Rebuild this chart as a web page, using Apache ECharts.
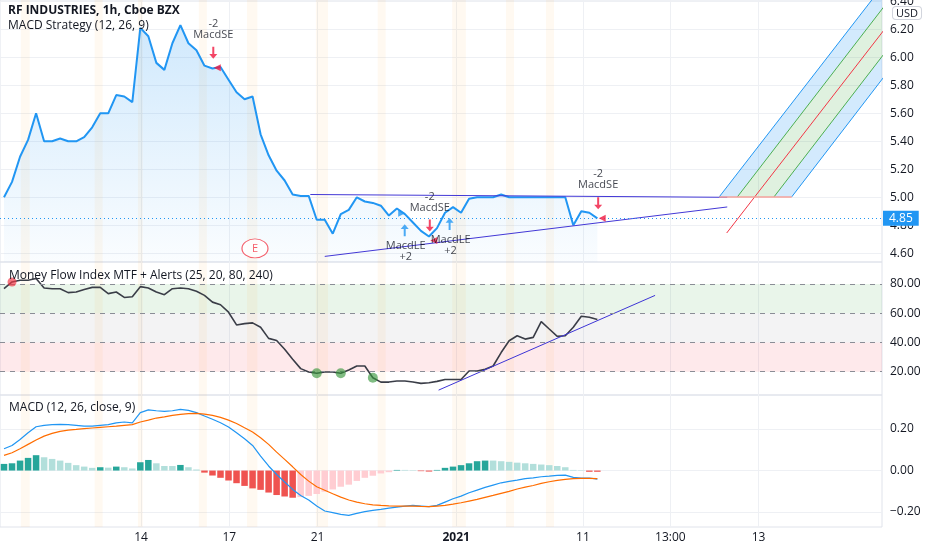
<!DOCTYPE html>
<html><head><meta charset="utf-8">
<script src="https://cdn.jsdelivr.net/npm/echarts@6/dist/echarts.min.js"></script>
<style>html,body{margin:0;padding:0;background:#fff}#c{width:932px;height:550px}</style>
</head><body><div id="c"></div>
<script>
// ---------- data (bar index = hourly bar) ----------
const closePrice = [5.00,5.11,5.29,5.41,5.60,5.40,5.40,5.42,5.40,5.40,
  5.43,5.50,5.60,5.60,5.73,5.72,5.68,6.21,6.15,5.96,
  5.91,6.10,6.23,6.10,6.05,5.94,5.92,5.93,5.84,5.75,
  5.70,5.72,5.45,5.30,5.19,5.12,5.02,5.01,5.01,4.84,
  4.84,4.74,4.88,4.91,5.00,4.97,4.96,4.94,4.87,4.92,
  4.88,4.82,4.76,4.72,4.78,4.89,4.93,4.89,4.99,5.00,
  5.00,5.00,5.02,5.00,5.00,5.00,5.00,5.00,5.00,5.00,
  5.00,4.80,4.90,4.89,4.85];
const mfi = [76.8,81.4,82.6,82.6,83.7,77.3,76.8,76.8,74.1,74.5,
  76.3,77.7,77.7,73.4,74.5,70.8,71.3,78.2,77.3,74.5,
  72.7,76.8,77.3,76.8,75.0,72.2,67.6,65.8,60.7,52.0,
  52.9,53.4,50.4,42.8,41.4,35.4,28.5,22.1,19.8,18.9,
  19.8,19.8,18.9,21.2,23.9,23.9,15.9,12.9,12.9,13.6,
  13.6,12.9,12.0,12.4,13.4,14.7,14.7,14.7,20.5,20.5,
  21.6,23.9,33.1,41.2,44.6,42.3,43.5,54.3,49.2,44.2,
  44.6,50.4,57.9,57.3,55.7];
const macdLine = [0.105,0.121,0.150,0.182,0.211,0.218,0.221,0.222,0.221,0.218,
  0.214,0.214,0.218,0.221,0.230,0.234,0.230,0.279,0.292,0.288,
  0.285,0.288,0.295,0.290,0.279,0.263,0.247,0.230,0.210,0.182,
  0.153,0.121,0.070,0.022,-0.019,-0.055,-0.091,-0.120,-0.142,-0.171,
  -0.195,-0.203,-0.211,-0.216,-0.206,-0.198,-0.192,-0.187,-0.181,-0.176,
  -0.171,-0.168,-0.171,-0.174,-0.168,-0.152,-0.136,-0.123,-0.107,-0.094,
  -0.081,-0.070,-0.059,-0.052,-0.046,-0.039,-0.035,-0.030,-0.027,-0.023,
  -0.022,-0.033,-0.036,-0.036,-0.041];
const signalLine = [0.073,0.086,0.105,0.126,0.147,0.166,0.179,0.189,0.195,0.198,
  0.202,0.205,0.208,0.211,0.214,0.218,0.221,0.234,0.243,0.253,
  0.259,0.266,0.271,0.274,0.275,0.272,0.266,0.256,0.243,0.227,
  0.206,0.186,0.158,0.126,0.089,0.054,0.018,-0.019,-0.051,-0.078,
  -0.095,-0.112,-0.128,-0.142,-0.152,-0.160,-0.165,-0.168,-0.170,-0.171,
  -0.171,-0.171,-0.173,-0.174,-0.171,-0.168,-0.162,-0.155,-0.147,-0.139,
  -0.129,-0.120,-0.110,-0.100,-0.089,-0.080,-0.072,-0.062,-0.054,-0.047,
  -0.043,-0.039,-0.038,-0.038,-0.039];
const histogram = [0.032,0.035,0.048,0.061,0.074,0.064,0.056,0.048,0.037,0.026,
  0.019,0.013,0.016,0.014,0.019,0.016,0.010,0.040,0.051,0.035,
  0.022,0.022,0.027,0.016,0.005,-0.010,-0.024,-0.035,-0.048,-0.061,
  -0.074,-0.086,-0.093,-0.106,-0.118,-0.125,-0.131,-0.128,-0.122,-0.113,
  -0.102,-0.091,-0.078,-0.068,-0.050,-0.035,-0.025,-0.014,-0.008,0.003,
  0.003,0.002,-0.003,-0.005,0.003,0.013,0.019,0.026,0.035,0.045,
  0.048,0.048,0.045,0.042,0.038,0.035,0.032,0.029,0.026,0.022,
  0.016,0.003,0.002,-0.006,-0.006];

const tickPositions = [17.1, 28.1, 39.1, 56.4, 72.2, 83.1, 94.1];
const tickLabels = ['14', '17', '21', '2021', '11', '13:00', '13'];
const priceTicks = [4.6, 4.8, 5.0, 5.2, 5.4, 5.6, 5.8, 6.0, 6.2, 6.4];
const mfiTicks = [20, 40, 60, 80];
const macdTicks = [-0.2, 0, 0.2];
const lastPrice = 4.85;

const sessionBands = [[2.1,3.2],[11.3,12.3],[16.7,17.3],[24.3,25.3],[30.3,31.6],
  [38.9,40.4],[46.6,47.6],[55.9,57.6],[62.6,63.6],[67.6,68.6]];

// drawings
const resistanceLine = [[38.2, 5.02], [90.2, 5.00]];
const supportLine = [[40.0, 4.578], [90.2, 4.931]];
const mfiTrendLine = [[54.2, 7.4], [81.2, 72.2]];
const channelOuterUpper = [[89.2, 5.003], [111, 6.614]];
const channelInnerUpper = [[91.46, 5.003], [111, 6.455]];
const channelMedian = [[90.13, 4.745], [111, 6.287]];
const channelInnerLower = [[96.03, 5.003], [111, 6.117]];
const channelOuterLower = [[98.24, 5.003], [111, 5.954]];
const channelBase = [[89.2, 5.003], [98.24, 5.003]];

// strategy / indicator markers
const shortEntries = [[26.6, 5.926], [53.6, 4.692], [74.6, 4.85]];
const longEntries = [[49.6, 4.886], [55.2, 4.93]];
const earnings = [[31.3, 4.635]];
const mfiOverbought = [1];
const mfiOversold = [39, 42, 46];

// ---------- chart ----------
const FONT = '"Open Sans", "Noto Sans", sans-serif';
const TXT = '#131722';
const GRIDC = '#eef0f4';
const chart = echarts.init(document.getElementById('c'), null, {renderer: 'canvas'});

const idx = a => a.map((v, i) => [i, v]);
const bandAreas = sessionBands.map(b => [{xAxis: b[0], itemStyle: {color: 'rgba(255,167,38,0.065)'}}, {xAxis: b[1]}]);

function xAxisFor(g, showLabel) {
  return {
    type: 'value', gridIndex: g, min: -0.5, max: 109.5,
    axisLine: {show: false},
    axisTick: {show: false, customValues: tickPositions},
    axisLabel: {
      show: showLabel, customValues: tickPositions, color: TXT, fontSize: 12, fontFamily: FONT, margin: 5,
      formatter: v => {
        const k = tickPositions.findIndex(t => Math.abs(t - v) < 1e-6);
        if (k < 0) return '';
        return tickLabels[k] === '2021' ? '{b|2021}' : tickLabels[k];
      },
      rich: {b: {fontWeight: 'bold', fontSize: 12, color: TXT, fontFamily: FONT}}
    },
    splitLine: {show: true, lineStyle: {color: GRIDC, width: 1}}
  };
}
function yAxisFor(g, min, max, ticks, fmt, split) {
  return {
    type: 'value', gridIndex: g, position: 'right', min: min, max: max, scale: true,
    axisLine: {show: false},
    axisTick: {show: false, customValues: ticks},
    axisLabel: {customValues: ticks, color: TXT, fontSize: 12, fontFamily: FONT, margin: 8, formatter: fmt},
    splitLine: {show: split, lineStyle: {color: GRIDC, width: 1}}
  };
}
const fmt2 = v => v.toFixed(2);
const fmtMacd = v => (v < -1e-9 ? '\u2212' + Math.abs(v).toFixed(2) : Math.abs(v).toFixed(2));

const channelPolys = [
  [channelOuterUpper[0], channelOuterUpper[1], channelInnerUpper[1], channelInnerUpper[0]],
  [channelInnerUpper[0], channelInnerUpper[1], channelInnerLower[1], channelInnerLower[0]],
  [channelInnerLower[0], channelInnerLower[1], channelOuterLower[1], channelOuterLower[0]]
];
const channelFills = ['rgba(33,150,243,0.20)', 'rgba(76,175,80,0.18)', 'rgba(33,150,243,0.20)'];

function drawLine(data, color, width, g) {
  return {type: 'line', xAxisIndex: g || 0, yAxisIndex: g || 0, data: data, symbol: 'none', silent: true,
    lineStyle: {color: color, width: width || 1}, z: 4, clip: true, animation: false};
}

const histData = histogram.map((v, i) => {
  const p = i > 0 ? histogram[i - 1] : (v >= 0 ? v - 1 : v + 1);
  let c;
  if (v >= 0) c = p < v ? '#26a69a' : '#b2dfdb';
  else c = p < v ? '#ffcdd2' : '#ef5350';
  return {value: [i, v], itemStyle: {color: c}};
});

const downArrow = 'path://M3,0 H5 V8 H8 L4,13 L0,8 H3 Z';
const upArrow = 'path://M4,0 L8,5 H5 V13 H3 V5 H0 Z';

const option = {
  animation: false,
  backgroundColor: '#ffffff',
  textStyle: {fontFamily: FONT},
  title: [
    {text: 'RF INDUSTRIES, 1h, Cboe BZX', left: 8, top: 5, padding: 0, textStyle: {fontSize: 12, fontWeight: 'bold', color: TXT, fontFamily: FONT}},
    {text: 'MACD Strategy (12, 26, 9)', left: 8, top: 20, padding: 0, textStyle: {fontSize: 12, fontWeight: 'normal', color: TXT, fontFamily: FONT}},
    {text: 'Money Flow Index MTF + Alerts (25, 20, 80, 240)', left: 9, top: 270, padding: 0, textStyle: {fontSize: 12, fontWeight: 'normal', color: TXT, fontFamily: FONT}},
    {text: 'MACD (12, 26, close, 9)', left: 9, top: 402, padding: 0, textStyle: {fontSize: 12, fontWeight: 'normal', color: TXT, fontFamily: FONT}}
  ],
  graphic: [
    {type: 'text', left: 892, top: 6, z: 100, style: {text: 'USD', fill: TXT, font: '11px ' + FONT, backgroundColor: '#fff', borderColor: '#d1d4dc', borderWidth: 1, borderRadius: 3, padding: [1, 3, 0, 3]}}
  ],
  grid: [
    {left: 0, right: 50, top: 0, height: 262, show: true, borderColor: '#e0e3eb', borderWidth: 1, outerBoundsMode: 'none'},
    {left: 0, right: 50, top: 262, height: 133, show: true, borderColor: '#e0e3eb', borderWidth: 1, outerBoundsMode: 'none'},
    {left: 0, right: 50, top: 395, height: 132, show: true, borderColor: '#e0e3eb', borderWidth: 1, outerBoundsMode: 'none'}
  ],
  xAxis: [xAxisFor(0, false), xAxisFor(1, false), xAxisFor(2, true)],
  yAxis: [
    yAxisFor(0, 4.538, 6.409, priceTicks, fmt2, true),
    yAxisFor(1, 4.06, 95.05, mfiTicks, fmt2, false),
    yAxisFor(2, -0.272, 0.364, macdTicks, fmtMacd, true)
  ],
  series: [
    // channel fills
    {
      type: 'custom', xAxisIndex: 0, yAxisIndex: 0, silent: true, z: 2, clip: true,
      data: channelPolys.map(p => [p[0][0], p[0][1]]),
      renderItem: (params, api) => {
        const poly = channelPolys[params.dataIndex];
        const cs = params.coordSys;
        return {
          type: 'polygon',
          shape: {points: poly.map(p => api.coord(p))},
          style: {fill: channelFills[params.dataIndex], stroke: null},
          clipPath: {type: 'rect', shape: {x: cs.x, y: cs.y, width: cs.width, height: cs.height}}
        };
      }
    },
    // price
    {
      type: 'line', xAxisIndex: 0, yAxisIndex: 0, data: idx(closePrice), symbol: 'none', z: 3,
      lineStyle: {color: '#2196f3', width: 2},
      areaStyle: {origin: 'start', color: {type: 'linear', x: 0, y: 0, x2: 0, y2: 1, colorStops: [
        {offset: 0, color: 'rgba(33,150,243,0.30)'}, {offset: 1, color: 'rgba(33,150,243,0.03)'}]}},
      markArea: {silent: true, data: bandAreas},
      markLine: {
        silent: true, symbol: 'none', data: [{yAxis: lastPrice}],
        lineStyle: {color: '#2196f3', type: [1, 3], width: 1},
        label: {show: true, position: 'end', distance: 1, formatter: lastPrice.toFixed(2), color: '#fff',
          backgroundColor: '#2196f3', padding: [2, 6, 1, 6], fontSize: 12, fontFamily: FONT}
      }
    },
    drawLine(resistanceLine, '#4338d6', 1),
    drawLine(supportLine, '#4338d6', 1),
    drawLine(channelOuterUpper, '#2196f3', 1),
    drawLine(channelOuterLower, '#2196f3', 1),
    drawLine(channelInnerUpper, '#4caf50', 1),
    drawLine(channelInnerLower, '#4caf50', 1),
    drawLine(channelMedian, '#f23645', 1),
    drawLine(channelBase, '#f4a29b', 1.5),
    // short signals
    {type: 'scatter', xAxisIndex: 0, yAxisIndex: 0, data: shortEntries, symbol: 'triangle', symbolRotate: 90,
      symbolSize: 7, itemStyle: {color: '#f0163f'}, z: 6, silent: true},
    {type: 'scatter', xAxisIndex: 0, yAxisIndex: 0, data: shortEntries, symbol: downArrow, symbolSize: [8, 12],
      symbolOffset: [-4, -15], itemStyle: {color: '#f0163f'}, z: 6, silent: true},
    {type: 'scatter', xAxisIndex: 0, yAxisIndex: 0, data: shortEntries, symbolSize: 1, itemStyle: {color: 'transparent'}, z: 7, silent: true,
      label: {show: true, position: 'top', distance: 27, offset: [-4, 0], formatter: '-2\nMacdSE', lineHeight: 11,
        fontSize: 11, color: TXT, fontFamily: FONT, align: 'center'}},
    // long signals
    {type: 'scatter', xAxisIndex: 0, yAxisIndex: 0, data: longEntries.slice(0, 1), symbol: 'triangle', symbolRotate: -90,
      symbolSize: 7, itemStyle: {color: '#2196f3'}, z: 6, silent: true},
    {type: 'scatter', xAxisIndex: 0, yAxisIndex: 0, data: longEntries, symbol: upArrow, symbolSize: [8, 12],
      symbolOffset: [3, 17], itemStyle: {color: '#2196f3'}, z: 6, silent: true},
    {type: 'scatter', xAxisIndex: 0, yAxisIndex: 0, data: longEntries, symbolSize: 1, itemStyle: {color: 'transparent'}, z: 7, silent: true,
      label: {show: true, position: 'bottom', distance: 27, offset: [4, 0], formatter: 'MacdLE\n+2', lineHeight: 11,
        fontSize: 11, color: TXT, fontFamily: FONT, align: 'center'}},
    // earnings
    {type: 'scatter', xAxisIndex: 0, yAxisIndex: 0, data: earnings, symbol: 'circle', symbolSize: [26, 19], z: 6, silent: true,
      itemStyle: {color: '#ffffff', borderColor: '#f23645', borderWidth: 1},
      label: {show: true, position: 'inside', formatter: 'E', color: '#f23645', fontSize: 11, fontFamily: FONT}},

    // MFI
    {
      type: 'line', xAxisIndex: 1, yAxisIndex: 1, data: idx(mfi), symbol: 'none', z: 3,
      lineStyle: {color: '#3a3d47', width: 1.6},
      markArea: {silent: true, data: [
        [{yAxis: 60, itemStyle: {color: 'rgba(76,175,80,0.12)'}}, {yAxis: 80}],
        [{yAxis: 40, itemStyle: {color: 'rgba(120,123,134,0.09)'}}, {yAxis: 60}],
        [{yAxis: 20, itemStyle: {color: 'rgba(242,54,69,0.11)'}}, {yAxis: 40}]
      ].concat(bandAreas)},
      markLine: {silent: true, symbol: 'none', label: {show: false},
        lineStyle: {color: '#8a8d96', type: [5, 5], width: 1},
        data: mfiTicks.map(v => ({yAxis: v}))}
    },
    drawLine(mfiTrendLine, '#3d34d6', 1, 1),
    {type: 'scatter', xAxisIndex: 1, yAxisIndex: 1, data: mfiOverbought.map(i => [i, mfi[i]]), symbolSize: 9,
      itemStyle: {color: 'rgba(242,54,69,0.85)'}, z: 5, silent: true},
    {type: 'scatter', xAxisIndex: 1, yAxisIndex: 1, data: mfiOversold.map(i => [i, mfi[i]]), symbolSize: 10,
      itemStyle: {color: 'rgba(56,150,60,0.8)'}, z: 5, silent: true},

    // MACD
    {type: 'bar', xAxisIndex: 2, yAxisIndex: 2, data: histData, barWidth: 6.5, z: 2, silent: true,
      markArea: {silent: true, data: bandAreas}},
    {type: 'line', xAxisIndex: 2, yAxisIndex: 2, data: idx(macdLine), symbol: 'none', z: 4,
      lineStyle: {color: '#2196f3', width: 1.2}, silent: true},
    {type: 'line', xAxisIndex: 2, yAxisIndex: 2, data: idx(signalLine), symbol: 'none', z: 4,
      lineStyle: {color: '#ff6d00', width: 1.2}, silent: true}
  ]
};
chart.setOption(option);
</script>
</body></html>
